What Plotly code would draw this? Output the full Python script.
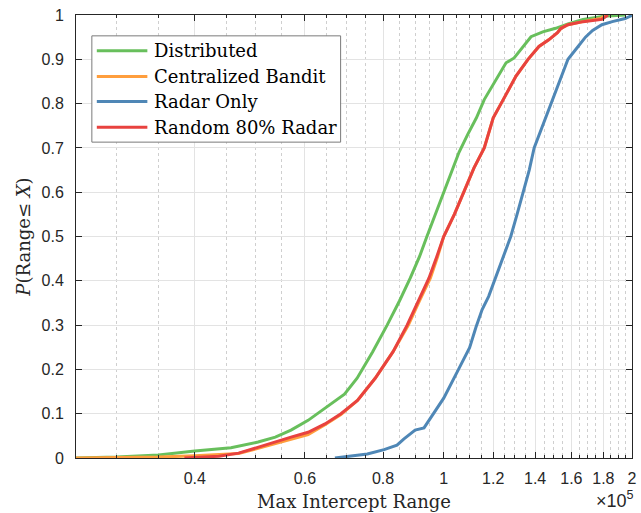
import math
import plotly.graph_objects as go

# Max intercept range, in units of 1e5, and the empirical CDF value at each point
dist_range = [0.258, 0.30, 0.35, 0.40, 0.457, 0.505, 0.538, 0.57, 0.607, 0.66, 0.694,
              0.727, 0.77, 0.812, 0.85, 0.884, 0.915, 0.94, 0.97, 1.0, 1.028, 1.058,
              1.092, 1.128, 1.161, 1.205, 1.258, 1.296, 1.33, 1.379, 1.44, 1.51, 1.58,
              1.67, 1.80, 1.95]
dist_cdf = [0.0, 0.002, 0.007, 0.016, 0.023, 0.036, 0.047, 0.063, 0.085, 0.122, 0.144,
            0.18, 0.24, 0.30, 0.355, 0.406, 0.455, 0.50, 0.55, 0.60, 0.645, 0.69,
            0.73, 0.768, 0.809, 0.847, 0.892, 0.903, 0.922, 0.951, 0.962, 0.970, 0.980,
            0.990, 0.997, 1.0]

cent_range = [0.258, 0.35, 0.40, 0.47, 0.505, 0.538, 0.57, 0.607, 0.646, 0.685, 0.728,
              0.777, 0.83, 0.878, 0.915, 0.952, 0.978, 1.0, 1.04, 1.076, 1.118, 1.161,
              1.20, 1.245, 1.305, 1.364, 1.42, 1.472, 1.52, 1.54, 1.58, 1.67, 1.78, 1.82]
cent_cdf = [0.0, 0.002, 0.005, 0.010, 0.022, 0.033, 0.043, 0.053, 0.075, 0.098, 0.13,
            0.18, 0.24, 0.30, 0.355, 0.406, 0.455, 0.50, 0.55, 0.60, 0.655, 0.70,
            0.768, 0.809, 0.862, 0.90, 0.929, 0.944, 0.960, 0.970, 0.978, 0.985, 0.992, 1.0]

radar_range = [0.67, 0.755, 0.803, 0.842, 0.864, 0.90, 0.93, 0.975, 1.0, 1.056, 1.10,
               1.126, 1.152, 1.18, 1.205, 1.245, 1.28, 1.31, 1.34, 1.37, 1.395, 1.43,
               1.456, 1.49, 1.527, 1.58, 1.64, 1.685, 1.73, 1.79, 1.86, 1.95, 2.0]
radar_cdf = [0.0, 0.009, 0.019, 0.029, 0.043, 0.063, 0.068, 0.11, 0.135, 0.20, 0.249,
             0.295, 0.335, 0.365, 0.40, 0.45, 0.50, 0.55, 0.60, 0.65, 0.70, 0.74,
             0.768, 0.81, 0.847, 0.90, 0.929, 0.95, 0.965, 0.978, 0.985, 0.992, 0.999]

rand_range = [0.385, 0.437, 0.47, 0.505, 0.538, 0.57, 0.607, 0.646, 0.685, 0.728, 0.777,
              0.83, 0.874, 0.91, 0.947, 0.975, 1.0, 1.04, 1.076, 1.118, 1.161, 1.20,
              1.245, 1.305, 1.364, 1.42, 1.472, 1.52, 1.54, 1.58, 1.67, 1.79, 1.83]
rand_cdf = [0.0, 0.004, 0.011, 0.025, 0.036, 0.047, 0.058, 0.077, 0.10, 0.13, 0.18,
            0.24, 0.30, 0.355, 0.406, 0.455, 0.50, 0.55, 0.60, 0.655, 0.70, 0.768,
            0.809, 0.862, 0.90, 0.929, 0.944, 0.960, 0.970, 0.978, 0.985, 0.990, 1.0]

series_names = ["Distributed", "Centralized Bandit", "Radar Only", "Random 80% Radar"]
series_colors = ["#68bf5c", "#ff9e3d", "#4f87b6", "#e8423f"]

x_ticks = [0.4, 0.6, 0.8, 1.0, 1.2, 1.4, 1.6, 1.8, 2.0]
x_tick_text = ["0.4", "0.6", "0.8", "1", "1.2", "1.4", "1.6", "1.8", "2"]
y_ticks = [0.0, 0.1, 0.2, 0.3, 0.4, 0.5, 0.6, 0.7, 0.8, 0.9, 1.0]
y_tick_text = ["0", "0.1", "0.2", "0.3", "0.4", "0.5", "0.6", "0.7", "0.8", "0.9", "1"]

SCALE = 1e5
X_MIN, X_MAX = 0.2583, 2.0

W, H = 641, 513
ML, MR, MT, MB = 76, 4, 15, 52
PW, PH = W - ML - MR, H - MT - MB

AX = "#262626"
SERIF = "DejaVu Serif"
SANS = "Liberation Sans"

fig = go.Figure()
data = [(dist_range, dist_cdf), (cent_range, cent_cdf),
        (radar_range, radar_cdf), (rand_range, rand_cdf)]
for (xs, ps), name, color in zip(data, series_names, series_colors):
    fig.add_trace(go.Scatter(
        x=[v * SCALE for v in xs], y=ps, mode="lines", name=name,
        line=dict(color=color, width=3), showlegend=False, hoverinfo="skip"))

# minor ticks every 0.05e5 between the labelled ticks
minor_vals = []
k = 6
while k * 0.05 < X_MAX - 1e-9:
    v = round(k * 0.05, 2)
    if all(abs(v - t) > 1e-6 for t in x_ticks):
        minor_vals.append(v * SCALE)
    k += 1

fig.update_xaxes(
    type="log", range=[math.log10(X_MIN * SCALE), math.log10(X_MAX * SCALE)],
    tickmode="array", tickvals=[t * SCALE for t in x_ticks], ticktext=x_tick_text,
    ticks="inside", ticklen=6, tickwidth=1, tickcolor=AX,
    showline=True, linecolor=AX, linewidth=1, mirror="allticks",
    showgrid=True, gridcolor="#e3e3e3", gridwidth=1,
    tickfont=dict(family=SANS, size=16, color=AX), ticklabelstandoff=6,
    zeroline=False,
    minor=dict(tickmode="array", tickvals=minor_vals, ticks="inside", ticklen=3,
               tickcolor=AX, showgrid=True, gridcolor="#cfcfcf", griddash="dot",
               gridwidth=1),
    title=dict(text="Max Intercept Range", font=dict(family=SERIF, size=18, color=AX),
               standoff=9),
)
fig.update_yaxes(
    range=[0, 1], tickmode="array", tickvals=y_ticks, ticktext=y_tick_text,
    ticks="inside", ticklen=6, tickwidth=1, tickcolor=AX,
    showline=True, linecolor=AX, linewidth=1, mirror="allticks",
    showgrid=True, gridcolor="#e3e3e3", gridwidth=1, zeroline=False,
    tickfont=dict(family=SANS, size=16, color=AX), ticklabelstandoff=8,
    title=dict(text="<i>P</i>(Range≤ <i>X</i>)", font=dict(family=SERIF, size=18, color=AX),
               standoff=6),
)


def px_x(p):
    return (p - ML) / PW


def px_y(p):
    return (H - MB - p) / PH


# legend box with line samples
shapes = [dict(type="rect", xref="paper", yref="paper",
               x0=px_x(92), x1=px_x(343), y0=px_y(143), y1=px_y(36),
               line=dict(color="#7a7a7a", width=1), fillcolor="white", layer="above")]
annotations = []
row_y = [51, 77, 102, 128]
for name, color, ry in zip(series_names, series_colors, row_y):
    shapes.append(dict(type="line", xref="paper", yref="paper",
                       x0=px_x(97), x1=px_x(148), y0=px_y(ry), y1=px_y(ry),
                       line=dict(color=color, width=3), layer="above"))
    annotations.append(dict(text=name, xref="paper", yref="paper",
                            x=px_x(153), y=px_y(ry), xanchor="left", yanchor="middle",
                            showarrow=False,
                            font=dict(family=SERIF, size=18, color="black")))

annotations.append(dict(text="×10<sup>5</sup>", xref="paper", yref="paper",
                        x=px_x(641), y=px_y(503), xanchor="right", yanchor="middle",
                        showarrow=False, font=dict(family=SANS, size=18, color=AX)))

fig.update_layout(
    width=W, height=H, margin=dict(l=ML, r=MR, t=MT, b=MB),
    paper_bgcolor="white", plot_bgcolor="white",
    shapes=shapes, annotations=annotations, showlegend=False,
)

fig.write_html("out.html")
